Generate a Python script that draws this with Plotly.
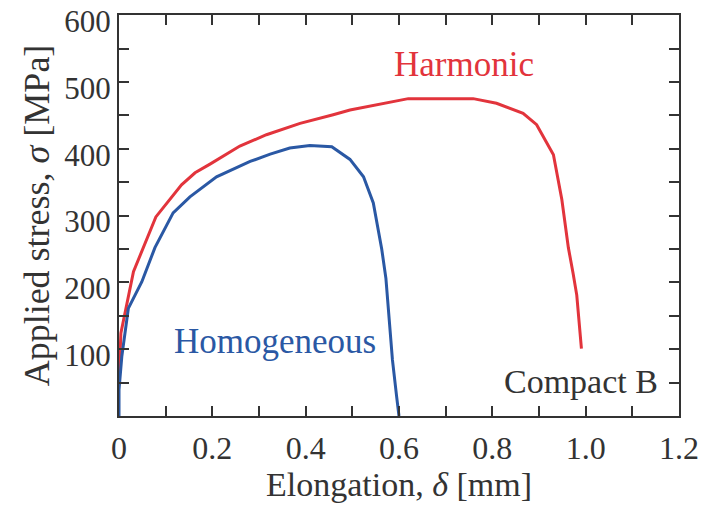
import plotly.graph_objects as go

# Harmonic curve (elongation mm, stress MPa)
harm_x = [0.0, 0.004, 0.031, 0.079, 0.134, 0.163, 0.195, 0.259, 0.316, 0.388, 0.459, 0.495,
          0.62, 0.759, 0.809, 0.866, 0.895, 0.931, 0.949, 0.963, 0.973, 0.981, 0.991]
harm_y = [51, 124, 216, 298, 346, 364, 377, 404, 421, 438, 451, 458,
          475, 475, 468, 453, 436, 391, 324, 252, 214, 181, 101]

# Homogeneous curve
homo_x = [0.0, 0.0, 0.006, 0.02, 0.049, 0.077, 0.116, 0.152, 0.209, 0.281, 0.324, 0.366,
          0.409, 0.456, 0.495, 0.524, 0.545, 0.563, 0.572, 0.579, 0.586, 0.595, 0.6]
homo_y = [0, 39, 89, 161, 201, 252, 304, 328, 358, 381, 392, 401,
          405, 403, 384, 358, 319, 250, 206, 149, 84, 29, 0]

x_tickvals = [0.0, 0.1, 0.2, 0.3, 0.4, 0.5, 0.6, 0.7, 0.8, 0.9, 1.0, 1.1, 1.2]
x_ticktext = ["0", "", "0.2", "", "0.4", "", "0.6", "", "0.8", "", "1.0", "", "1.2"]
y_tickvals = [50, 100, 150, 200, 250, 300, 350, 400, 450, 500, 550, 600]
y_ticktext = ["", "100", "", "200", "", "300", "", "400", "", "500", "", "600"]

RED = "#e2343c"
BLUE = "#2a58a4"
AX = "#333333"
FONT = "Liberation Serif"

fig = go.Figure()
fig.add_trace(go.Scatter(x=harm_x, y=harm_y, mode="lines", line=dict(color=RED, width=3),
                         name="Harmonic", showlegend=False))
fig.add_trace(go.Scatter(x=homo_x, y=homo_y, mode="lines", line=dict(color=BLUE, width=3),
                         name="Homogeneous", showlegend=False))

fig.add_annotation(x=0.739, y=526, text="Harmonic", showarrow=False,
                   font=dict(family=FONT, size=35, color=RED))
fig.add_annotation(x=0.334, y=111, text="Homogeneous", showarrow=False,
                   font=dict(family=FONT, size=35, color=BLUE))
fig.add_annotation(x=0.99, y=51, text="Compact B", showarrow=False,
                   font=dict(family=FONT, size=34, color=AX))

axis_common = dict(showline=True, linecolor=AX, linewidth=2, mirror="ticks",
                   ticks="inside", ticklen=10, tickwidth=1.5, tickcolor=AX,
                   showgrid=False, zeroline=False, automargin=False,
                   ticklabeloverflow="allow")

fig.update_xaxes(range=[0, 1.2001], tickmode="array", tickvals=x_tickvals, ticktext=x_ticktext,
                 tickfont=dict(family=FONT, size=32, color=AX), ticklabelstandoff=3,
                 title=dict(text="Elongation, <i>δ</i> [mm]", standoff=2,
                            font=dict(family=FONT, size=34, color=AX)),
                 **axis_common)
fig.update_yaxes(range=[0, 600.2], tickmode="array", tickvals=y_tickvals, ticktext=y_ticktext,
                 tickfont=dict(family=FONT, size=31, color=AX), ticklabelshift=6,
                 title=dict(text="Applied stress, <i>σ</i> [MPa]", standoff=4,
                            font=dict(family=FONT, size=36, color=AX)),
                 **axis_common)

fig.update_layout(width=701, height=505, margin=dict(l=119, r=22, t=15, b=89),
                  plot_bgcolor="white", paper_bgcolor="white")

fig.write_html("out.html")
